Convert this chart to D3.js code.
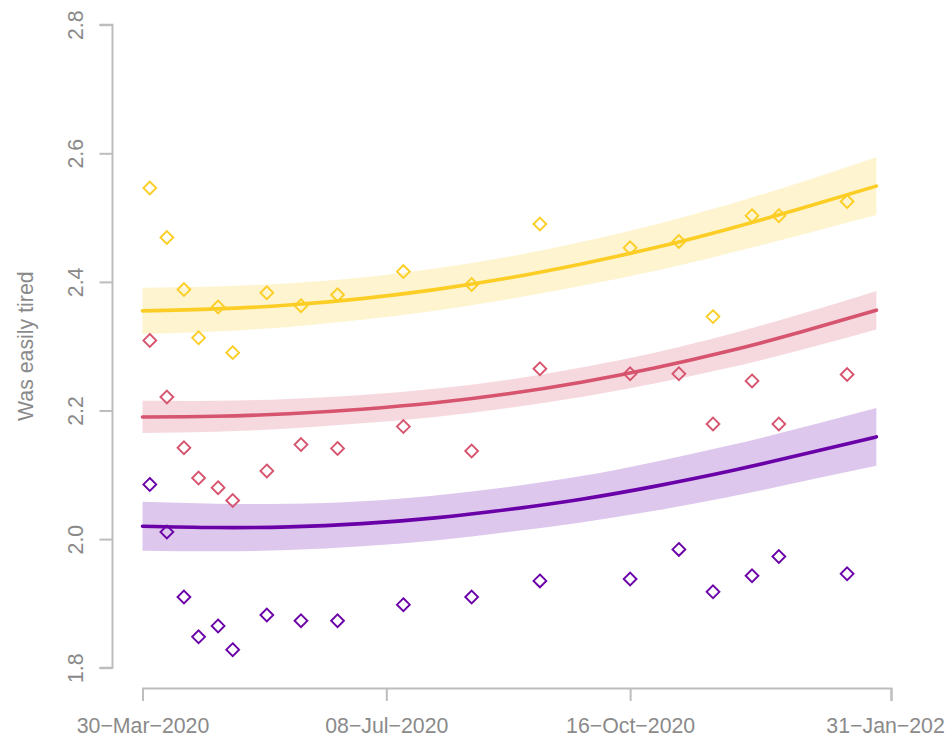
<!DOCTYPE html>
<html>
<head>
<meta charset="utf-8">
<script src="https://cdn.jsdelivr.net/npm/d3@7"></script>
<style>
  html, body { margin: 0; padding: 0; background: #fff; }
  svg { display: block; }
  text { font-family: "Liberation Sans", Arial, Helvetica, sans-serif; }
</style>
</head>
<body>
<svg id="chart" width="946" height="739"></svg>
<script>
// ---------- data ----------
const obsDates = ["2020-04-02","2020-04-09","2020-04-16","2020-04-22","2020-04-30","2020-05-06",
  "2020-05-20","2020-06-03","2020-06-18","2020-07-15","2020-08-12","2020-09-09",
  "2020-10-16","2020-11-05","2020-11-19","2020-12-05","2020-12-16","2021-01-13"];
const yellowPts = [2.546,2.469,2.388,2.313,2.361,2.290,2.383,2.363,2.380,2.416,2.396,2.490,2.453,2.463,2.346,2.503,2.503,2.525];
const pinkPts   = [2.309,2.221,2.142,2.095,2.080,2.060,2.106,2.147,2.141,2.175,2.137,2.265,2.257,2.257,2.179,2.246,2.179,2.256];
const purplePts = [2.085,2.011,1.910,1.848,1.865,1.828,1.882,1.873,1.873,1.898,1.910,1.935,1.938,1.984,1.918,1.943,1.973,1.946];

const fitDates = ["2020-03-30","2020-04-29","2020-05-29","2020-06-28","2020-07-28","2020-08-27",
  "2020-09-26","2020-10-26","2020-11-25","2020-12-25","2021-01-25"];
const yellowFit = [2.355,2.358,2.364,2.374,2.388,2.406,2.428,2.453,2.482,2.514,2.549];
const yellowHi  = [2.391,2.393,2.398,2.407,2.421,2.439,2.462,2.489,2.520,2.555,2.594];
const yellowLo  = [2.319,2.323,2.330,2.341,2.355,2.373,2.394,2.417,2.444,2.473,2.504];
const pinkFit   = [2.190,2.191,2.195,2.202,2.212,2.226,2.244,2.266,2.292,2.322,2.356];
const pinkHi    = [2.215,2.215,2.218,2.224,2.234,2.248,2.267,2.290,2.318,2.350,2.386];
const pinkLo    = [2.165,2.167,2.172,2.180,2.190,2.204,2.221,2.242,2.266,2.294,2.326];
const purpleFit = [2.020,2.018,2.019,2.024,2.033,2.046,2.062,2.082,2.105,2.131,2.159];
const purpleHi  = [2.058,2.055,2.055,2.059,2.068,2.081,2.098,2.120,2.145,2.173,2.204];
const purpleLo  = [1.982,1.981,1.983,1.989,1.998,2.011,2.026,2.044,2.065,2.089,2.114];

const xTickDates  = ["2020-03-30","2020-07-08","2020-10-16","2021-01-31"];
const xTickLabels = ["30\u2212Mar\u22122020","08\u2212Jul\u22122020","16\u2212Oct\u22122020","31\u2212Jan\u22122021"];
const yTicks = [1.8, 2.0, 2.2, 2.4, 2.6, 2.8];
const yTitle = "Was easily tired";

const seriesColors = ["#FCCE25", "#D6546E", "#6A00A8"];

// ---------- chart ----------
const parse = d3.utcParse("%Y-%m-%d");
const svg = d3.select("#chart");

const x = d3.scaleUtc()
  .domain([parse(xTickDates[0]), parse(xTickDates[3])])
  .range([142.5, 891]);
const y = d3.scaleLinear().domain([1.8, 2.8]).range([667.7, 24.7]);

const axisColor = "#BDBDBD";
const textColor = "#8A8A8A";
const fontSize = 21.3;

const series = [
  {pts: yellowPts, fit: yellowFit, hi: yellowHi, lo: yellowLo, color: seriesColors[0]},
  {pts: pinkPts,   fit: pinkFit,   hi: pinkHi,   lo: pinkLo,   color: seriesColors[1]},
  {pts: purplePts, fit: purpleFit, hi: purpleHi, lo: purpleLo, color: seriesColors[2]}
];

const area = d3.area()
  .x(d => x(d.date)).y0(d => y(d.lo)).y1(d => y(d.hi))
  .curve(d3.curveNatural);
const line = d3.line()
  .x(d => x(d.date)).y(d => y(d.v))
  .curve(d3.curveNatural);

// bands
series.forEach(s => {
  const data = fitDates.map((dt, i) => ({date: parse(dt), lo: s.lo[i], hi: s.hi[i]}));
  svg.append("path").datum(data)
    .attr("d", area)
    .attr("fill", s.color)
    .attr("fill-opacity", 0.22);
});

// points (diamonds)
const diamond = r => `M0,${-r}L${r},0L0,${r}L${-r},0Z`;
series.forEach(s => {
  svg.append("g").selectAll("path")
    .data(obsDates.map((dt, i) => ({date: parse(dt), v: s.pts[i]})))
    .join("path")
    .attr("transform", d => `translate(${x(d.date)},${y(d.v)})`)
    .attr("d", diamond(6.4))
    .attr("fill", "none")
    .attr("stroke", s.color)
    .attr("stroke-width", 1.9);
});

// fitted lines
series.forEach(s => {
  const data = fitDates.map((dt, i) => ({date: parse(dt), v: s.fit[i]}));
  svg.append("path").datum(data)
    .attr("d", line)
    .attr("fill", "none")
    .attr("stroke", s.color)
    .attr("stroke-width", 3.6)
    .attr("stroke-linecap", "round");
});

// y axis
const yAxis = d3.axisLeft(y).tickValues(yTicks).tickSize(13).tickFormat(d3.format(".1f"));
const gy = svg.append("g").attr("transform", "translate(112.5,0)").call(yAxis);
gy.select(".domain").attr("stroke", axisColor).attr("stroke-width", 2)
  .attr("d", `M-13,${y(1.8)}H0V${y(2.8)}H-13`);
gy.selectAll(".tick line").attr("stroke", axisColor).attr("stroke-width", 2);
gy.selectAll(".tick text")
  .attr("x", null).attr("dy", null)
  .attr("transform", "translate(-30,0) rotate(-90)")
  .attr("text-anchor", "middle")
  .attr("fill", textColor)
  .style("font-size", fontSize + "px")
  .style("font-family", '"Liberation Sans", Arial, sans-serif');

// x axis
const xAxis = d3.axisBottom(x)
  .tickValues(xTickDates.map(parse)).tickSize(13)
  .tickFormat((d, i) => xTickLabels[i]);
const gx = svg.append("g").attr("transform", "translate(0,688)").call(xAxis);
gx.select(".domain").attr("stroke", axisColor).attr("stroke-width", 2);
gx.selectAll(".tick line").attr("stroke", axisColor).attr("stroke-width", 2);
gx.selectAll(".tick text")
  .attr("y", 45).attr("dy", null)
  .attr("fill", textColor)
  .style("font-size", fontSize + "px")
  .style("font-family", '"Liberation Sans", Arial, sans-serif');

// y title
svg.append("text")
  .attr("transform", `translate(33,${(y(1.8) + y(2.8)) / 2}) rotate(-90)`)
  .attr("text-anchor", "middle")
  .attr("fill", textColor)
  .style("font-size", fontSize + "px")
  .text(yTitle);
</script>
</body>
</html>
